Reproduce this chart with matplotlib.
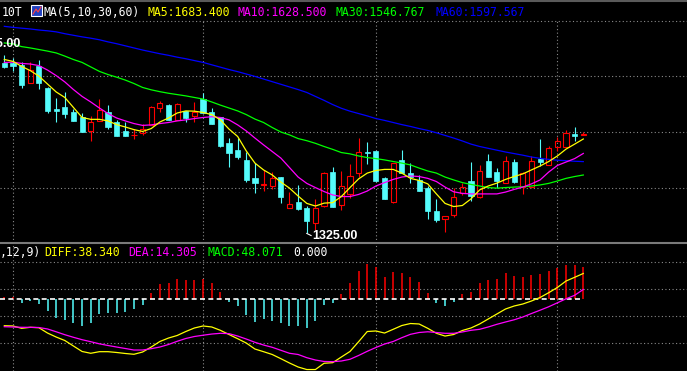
import matplotlib
matplotlib.use("Agg")
import matplotlib.pyplot as plt
from matplotlib.patches import Rectangle
from matplotlib.lines import Line2D
import numpy as np

W, H = 687, 371

# candles
opens = [1971, 1971, 1964, 1895, 1960, 1878, 1796, 1806, 1787, 1766,
         1715, 1753, 1787, 1749, 1715, 1697, 1705, 1737, 1802, 1812,
         1756, 1791, 1772, 1834, 1785, 1766, 1667, 1642, 1604, 1537,
         1510, 1505, 1540, 1423, 1445, 1423, 1363, 1429, 1557, 1433,
         1475, 1555, 1635, 1638, 1534, 1443, 1604, 1555, 1528, 1496,
         1411, 1379, 1395, 1477, 1524, 1462, 1600, 1559, 1518, 1597,
         1502, 1502, 1606, 1585, 1654, 1654, 1702, 1700]
highs = [2002, 1991, 1977, 1974, 1983, 1880, 1838, 1863, 1797, 1783,
         1771, 1834, 1811, 1756, 1749, 1720, 1740, 1809, 1828, 1816,
         1821, 1791, 1825, 1857, 1800, 1766, 1686, 1686, 1635, 1591,
         1566, 1559, 1540, 1483, 1509, 1429, 1454, 1559, 1578, 1563,
         1587, 1686, 1671, 1638, 1538, 1591, 1642, 1591, 1547, 1505,
         1455, 1391, 1499, 1518, 1595, 1585, 1627, 1572, 1619, 1606,
         1559, 1619, 1683, 1657, 1692, 1718, 1730, 1709]
lows = [1953, 1943, 1878, 1895, 1873, 1783, 1749, 1764, 1753, 1711,
        1676, 1753, 1720, 1696, 1696, 1683, 1700, 1737, 1787, 1756,
        1756, 1749, 1749, 1781, 1739, 1654, 1578, 1606, 1521, 1480,
        1486, 1494, 1442, 1423, 1414, 1325, 1339, 1424, 1426, 1414,
        1461, 1538, 1589, 1524, 1456, 1442, 1553, 1515, 1487, 1379,
        1370, 1332, 1389, 1471, 1448, 1458, 1540, 1496, 1518, 1515,
        1475, 1502, 1582, 1585, 1638, 1654, 1677, 1700]
closes = [1958, 1962, 1888, 1945, 1895, 1791, 1790, 1778, 1753, 1711,
          1748, 1793, 1730, 1696, 1696, 1700, 1722, 1804, 1819, 1756,
          1815, 1764, 1785, 1781, 1739, 1658, 1631, 1616, 1528, 1518,
          1513, 1537, 1464, 1437, 1417, 1373, 1423, 1555, 1426, 1505,
          1543, 1633, 1631, 1524, 1456, 1591, 1553, 1538, 1487, 1410,
          1376, 1391, 1462, 1500, 1468, 1562, 1540, 1524, 1600, 1521,
          1553, 1600, 1595, 1648, 1676, 1705, 1696, 1702]

ma5 = [1985, 1978, 1959, 1943, 1922, 1892, 1862, 1841, 1803, 1765,
       1758, 1758, 1752, 1738, 1729, 1719, 1712, 1723, 1748, 1763,
       1782, 1790, 1789, 1784, 1776, 1756, 1721, 1693, 1638, 1592,
       1566, 1547, 1520, 1497, 1467, 1439, 1429, 1440, 1442, 1465,
       1499, 1532, 1554, 1564, 1568, 1568, 1554, 1534, 1526, 1513,
       1475, 1439, 1427, 1431, 1456, 1490, 1505, 1516, 1530, 1541,
       1551, 1566, 1581, 1598, 1619, 1645, 1664, 1683.4]
ma10 = [1974, 1975, 1970, 1968, 1962, 1945, 1924, 1900, 1871, 1845,
        1824, 1801, 1780, 1763, 1752, 1742, 1735, 1737, 1742, 1746,
        1752, 1756, 1761, 1765, 1768, 1765, 1756, 1737, 1714, 1687,
        1661, 1636, 1611, 1575, 1539, 1515, 1499, 1484, 1471, 1465,
        1465, 1473, 1486, 1505, 1518, 1530, 1539, 1543, 1541, 1534,
        1522, 1501, 1483, 1477, 1475, 1475, 1475, 1475, 1482, 1492,
        1501, 1513, 1528, 1558, 1583, 1596, 1609, 1628.5]
ma30 = [2048, 2044, 2034, 2029, 2023, 2017, 2010, 1998, 1985, 1974,
        1957, 1940, 1928, 1918, 1907, 1894, 1879, 1870, 1863, 1857,
        1852, 1847, 1841, 1835, 1824, 1812, 1801, 1790, 1776, 1759,
        1746, 1727, 1710, 1699, 1685, 1677, 1667, 1655, 1644, 1632,
        1627, 1619, 1613, 1609, 1604, 1598, 1592, 1585, 1573, 1562,
        1554, 1539, 1528, 1518, 1511, 1505, 1499, 1497, 1499, 1501,
        1502, 1505, 1509, 1515, 1524, 1534, 1541, 1546.767]
ma60 = [2111, 2107, 2104, 2101, 2097, 2094, 2090, 2083, 2077, 2071,
        2066, 2060, 2052, 2045, 2037, 2029, 2021, 2014, 2007, 2001,
        1994, 1988, 1981, 1974, 1965, 1956, 1947, 1939, 1930, 1921,
        1911, 1901, 1891, 1881, 1871, 1860, 1845, 1830, 1814, 1800,
        1789, 1780, 1771, 1761, 1754, 1746, 1738, 1731, 1723, 1716,
        1707, 1697, 1687, 1676, 1664, 1655, 1648, 1641, 1634, 1628,
        1622, 1615, 1610, 1606, 1603, 1601, 1599, 1597.567]

diff = [-40.1, -40.5, -44.0, -42.5, -43.1, -51.1, -57.1, -62.3, -70.6, -78.8,
        -81.5, -79.1, -79.1, -80.3, -81.8, -83.0, -79.6, -72.1, -63.8, -58.6,
        -54.8, -48.8, -43.5, -40.5, -42.0, -47.0, -53.3, -59.6, -66.1, -75.1,
        -79.1, -83.3, -89.6, -96.1, -102.1, -105.9, -105.9, -96.5, -95.6, -87.1,
        -78.8, -64.1, -48.8, -48.0, -51.1, -45.5, -39.8, -36.8, -37.5, -44.0,
        -51.5, -55.6, -53.3, -47.3, -43.5, -37.5, -30.0, -22.5, -15.0, -10.5,
        -7.5, -3.0, 2.3, 9.5, 17.3, 27.0, 32.6, 38.34]
dea = [-41.6, -42.0, -42.5, -42.5, -42.8, -45.0, -49.2, -53.6, -57.5, -61.1,
       -64.1, -67.3, -69.8, -72.1, -74.3, -76.6, -76.6, -74.6, -72.1, -68.3,
       -63.5, -59.3, -56.3, -54.4, -52.6, -51.5, -52.0, -55.6, -60.1, -65.0,
       -69.1, -72.5, -77.0, -81.5, -83.3, -88.1, -91.6, -93.8, -94.1, -93.1,
       -90.5, -84.8, -78.5, -72.8, -67.6, -63.8, -58.1, -53.0, -50.3, -49.2,
       -50.3, -51.5, -51.5, -49.5, -47.0, -45.5, -42.0, -38.0, -34.5, -31.2,
       -27.0, -21.8, -16.8, -11.6, -5.7, 0.3, 5.6, 14.305]
macd = [2.5, 2.5, -5.5, -3, -7.5, -17.5, -28, -31.5, -36.5, -40,
        -35.5, -22.5, -20.5, -21.5, -19, -15, -9, 9.5, 22.5, 24.5,
        30, 28.5, 28.5, 30, 24.5, 11, -4.5, -10.5, -24, -34,
        -30, -32.5, -36.5, -40, -40.5, -43, -33, -9, -6.5, 8,
        23.5, 42, 52.5, 48.5, 33.5, 41, 39.5, 33.5, 26, 9.5,
        -5.5, -10.5, -4, 7.5, 11, 24.5, 28.5, 30, 39.5, 35,
        33.5, 36, 37.5, 42, 47, 51, 51, 48.071]

# grid levels and month-start candles
price_grid = [2131, 1921, 1710, 1499]
macd_grid = [55.6, 15.0, -25.5, -66.1]
month_starts = [1, 23, 43, 64]

RED = "#ff0000"
CYAN = "#54fcfc"
YEL = "#ffff00"
MAG = "#ff00ff"
GRN = "#00ff00"
BLU = "#0000ff"
GRID = "#8a8a8a"
MONO = "DejaVu Sans Mono"
LABEL = "Liberation Sans"


def fx(px):
    return px / W


def fy(py):
    return 1 - py / H


fig = plt.figure(figsize=(W / 100, H / 100), dpi=100, facecolor="black")
ax = fig.add_axes([0, fy(243), 1, (243 - 20) / H])
mx = fig.add_axes([0, 0, 1, (H - 243) / H])
for a in (ax, mx):
    a.set_xlim(-0.5, 79.0)
    a.axis("off")
ax.set_ylim(1288.7, 2135)
mx.set_ylim(-108.1, 84.1)

dot = (0, (1, 2.2))
for lv in price_grid:
    ax.axhline(lv, color=GRID, lw=0.8, ls=dot, zorder=0)
for lv in macd_grid:
    mx.axhline(lv, color=GRID, lw=0.8, ls=dot, zorder=0)
for i in month_starts:
    ax.axvline(i, color=GRID, lw=0.8, ls=dot, zorder=0)
    mx.axvline(i, color=GRID, lw=0.8, ls=dot, zorder=0)

# candlesticks
bw = 0.6
for i, (o, h, l, c) in enumerate(zip(opens, highs, lows, closes)):
    if c >= o:
        ax.vlines(i, c, h, color=RED, lw=0.8, zorder=2)
        ax.vlines(i, l, o, color=RED, lw=0.8, zorder=2)
        ax.add_patch(Rectangle((i - bw / 2, o), bw, max(c - o, 2), fill=False,
                               edgecolor=RED, lw=0.8, zorder=2))
    else:
        ax.vlines(i, l, h, color=CYAN, lw=0.8, zorder=2)
        ax.add_patch(Rectangle((i - bw / 2, c), bw, max(o - c, 2),
                               facecolor=CYAN, edgecolor=CYAN, lw=0.5, zorder=2))

x = np.arange(len(closes))
ax.plot(x, ma60, color=BLU, lw=0.9, zorder=3)
ax.plot(x, ma30, color=GRN, lw=0.9, zorder=3)
ax.plot(x, ma10, color=MAG, lw=0.9, zorder=3)
ax.plot(x, ma5, color=YEL, lw=0.9, zorder=3)

# low / high markers
lo = int(np.argmin(lows))
ax.plot([lo, lo + 0.5], [lows[lo], lows[lo] - 8], color="white", lw=0.8, zorder=4)
ax.text(lo + 0.62, 1316, f"{lows[lo]:.2f}", color="white", fontsize=9,
        fontweight="bold", family=LABEL, ha="left", va="center", zorder=4)
ax.text(1.95, 2045, "2055.00", color="white", fontsize=9, fontweight="bold",
        family=LABEL, ha="right", va="center", zorder=4)

# MACD panel
mx.vlines(x, 0, macd, colors=[RED if v > 0 else CYAN for v in macd], lw=1.1, zorder=2)
mx.plot([-0.5, len(macd) - 1], [0, 0], color="white", lw=1.2, dashes=(3, 2), zorder=3)
mx.plot(x, diff, color=YEL, lw=0.9, zorder=4)
mx.plot(x, dea, color=MAG, lw=0.9, zorder=4)

# frame lines
fig.add_artist(Line2D([0, 1], [fy(243), fy(243)], color="#7a7a7a", lw=1.5,
                      transform=fig.transFigure))
fig.add_artist(Line2D([0, 1], [fy(0.5), fy(0.5)], color="#5a5a5a", lw=1.5,
                      transform=fig.transFigure))

# header row
ty = fy(12)
fig.text(fx(2), ty, "10T", color="white", fontsize=8.3, family=MONO, va="center")
fig.add_artist(Rectangle((fx(31), fy(16)), 11 / W, 11 / H, facecolor="#2040c0",
                         edgecolor="white", lw=0.8, transform=fig.transFigure))
fig.add_artist(Line2D([fx(33), fx(36), fx(38), fx(41)], [fy(14), fy(9), fy(12), fy(7)],
                      color="#ff4040", lw=0.8, transform=fig.transFigure))
heads = [(43, "MA(5,10,30,60)", "white"),
         (147, f"MA5:{ma5[-1]:.3f}", YEL),
         (238, f"MA10:{ma10[-1]:.3f}", MAG),
         (335, f"MA30:{ma30[-1]:.3f}", GRN),
         (435, f"MA60:{ma60[-1]:.3f}", BLU)]
for px, s, col in heads:
    fig.text(fx(px), ty, s, color=col, fontsize=8.3, family=MONO, va="center")

my = fy(252)
heads2 = [(0, ",12,9)", "white"),
          (44, f"DIFF:{diff[-1]:.3f}", YEL),
          (128, f"DEA:{dea[-1]:.3f}", MAG),
          (207, f"MACD:{macd[-1]:.3f}", GRN),
          (293, "0.000", "white")]
for px, s, col in heads2:
    fig.text(fx(px), my, s, color=col, fontsize=8.3, family=MONO, va="center")

fig.savefig("out.png", dpi=100, facecolor="black")
